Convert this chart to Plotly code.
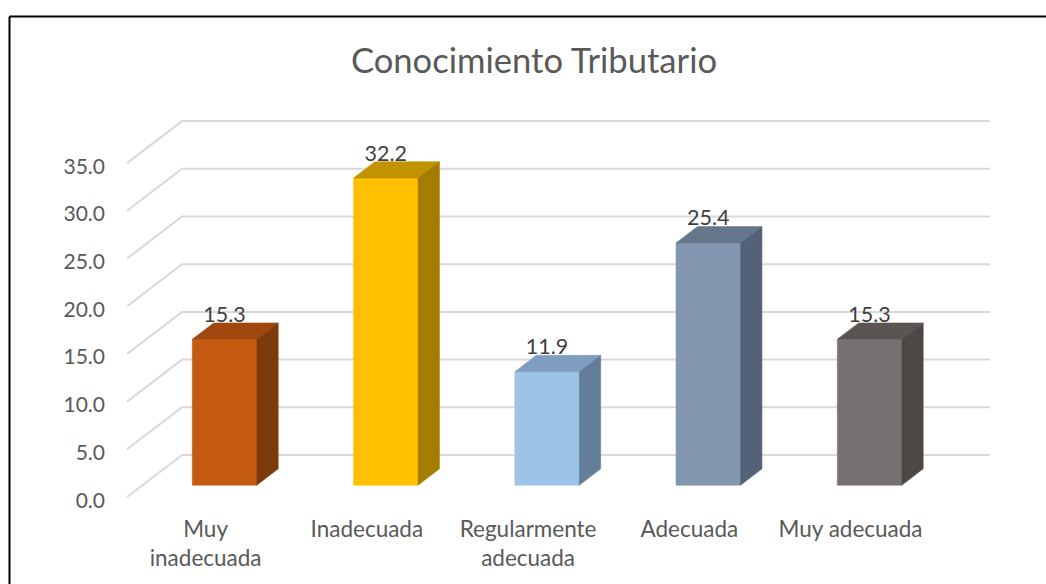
import plotly.graph_objects as go

categories = ["Muy<br>inadecuada", "Inadecuada", "Regularmente<br>adecuada", "Adecuada", "Muy adecuada"]
values = [15.3, 32.2, 11.9, 25.4, 15.3]
value_ticks = [0, 5, 10, 15, 20, 25, 30, 35]
front_colors = ["#C55A11", "#FFC000", "#9DC3E6", "#8497B0", "#767171"]
top_colors = ["#A0480E", "#C29200", "#7F9EBF", "#66768D", "#5A5553"]
side_colors = ["#7D3A0B", "#A67C00", "#647E9A", "#546277", "#4C4845"]

W, H = 1046, 584
L, R, T, B = 112, 1000, 100, 512
PX_PER_CAT, PX_PER_VAL = 161.25, 9.54
X0_PX, Y0_PX = 128.5, 497
DEPTH_X, DEPTH_Y = 55 / PX_PER_CAT, 42 / PX_PER_VAL
HALF_W = 0.2
Z0, Z1 = 0.28, 0.67
WALL_LEFT, WALL_RIGHT = -0.509, 4.502
LABEL_DROP = 0.45
TICK_DROP = 0.33
FONT = "Lato"


def proj(x, y, z):
    return x + z * DEPTH_X, y + z * DEPTH_Y


fig = go.Figure()

for v in value_ticks:
    a = proj(WALL_LEFT, v, 0)
    b = proj(WALL_LEFT, v, 1)
    c = proj(WALL_RIGHT, v, 1)
    fig.add_trace(go.Scatter(x=[a[0], b[0], c[0]], y=[a[1], b[1], c[1]], mode="lines",
                             line=dict(color="#D9D9D9", width=2), hoverinfo="skip", showlegend=False))


def face(points, color):
    fig.add_trace(go.Scatter(x=[p[0] for p in points] + [points[0][0]],
                             y=[p[1] for p in points] + [points[0][1]],
                             mode="lines", fill="toself", fillcolor=color,
                             line=dict(color=color, width=0.5), hoverinfo="skip", showlegend=False))


for i, v in enumerate(values):
    xl, xr = i - HALF_W, i + HALF_W
    face([proj(xl, 0, Z0), proj(xr, 0, Z0), proj(xr, v, Z0), proj(xl, v, Z0)], front_colors[i])
    face([proj(xl, v, Z0), proj(xr, v, Z0), proj(xr, v, Z1), proj(xl, v, Z1)], top_colors[i])
    face([proj(xr, 0, Z0), proj(xr, 0, Z1), proj(xr, v, Z1), proj(xr, v, Z0)], side_colors[i])

fig.add_trace(go.Scatter(x=[proj(i, v, Z0)[0] for i, v in enumerate(values)],
                         y=[proj(i, v, Z1)[1] - LABEL_DROP for i, v in enumerate(values)], mode="text",
                         text=[f"{v:.1f}" for v in values], textposition="top center",
                         textfont=dict(family=FONT, size=21.5, color="#404040"),
                         hoverinfo="skip", showlegend=False))

x_range = [-0.5 + (L - X0_PX) / PX_PER_CAT, -0.5 + (R - X0_PX) / PX_PER_CAT]
y_range = [(Y0_PX - B) / PX_PER_VAL, (Y0_PX - T) / PX_PER_VAL]

fig.update_layout(
    width=W, height=H, autosize=False,
    margin=dict(l=L, r=W - R, t=T, b=H - B, pad=0),
    paper_bgcolor="white", plot_bgcolor="white",
    title=dict(text="Conocimiento Tributario", x=534 / W, xanchor="center", xref="container",
               y=1 - 61 / H, yanchor="middle", yref="container",
               font=dict(family=FONT, size=34.6, color="#595959")),
    xaxis=dict(range=x_range, tickmode="array", tickvals=[i - 0.022 for i in range(len(categories))],
               ticktext=categories, showgrid=False, zeroline=False, showline=False, ticks="",
               tickfont=dict(family=FONT, size=22.5, color="#595959"), tickangle=0, ticklabelstandoff=1),
    yaxis=dict(range=y_range, tickmode="array", tickvals=[v - TICK_DROP for v in value_ticks],
               ticktext=[f"{v:.1f}" for v in value_ticks], ticklabelstandoff=6,
               showgrid=False, zeroline=False, showline=False, ticks="",
               tickfont=dict(family=FONT, size=21, color="#595959")),
    shapes=[
        dict(type="line", xref="paper", yref="paper",
             x0=(9.5 - L) / (R - L), x1=(W - L) / (R - L),
             y0=(B - 16.5) / (B - T), y1=(B - 16.5) / (B - T), line=dict(color="black", width=2)),
        dict(type="line", xref="paper", yref="paper",
             x0=(9.5 - L) / (R - L), x1=(9.5 - L) / (R - L),
             y0=(B - 16.5) / (B - T), y1=(B - H) / (B - T), line=dict(color="black", width=2)),
    ],
)

fig.write_html("out.html", config=dict(displayModeBar=False),
               post_script="document.body.style.margin='0';document.body.style.overflow='hidden';")
